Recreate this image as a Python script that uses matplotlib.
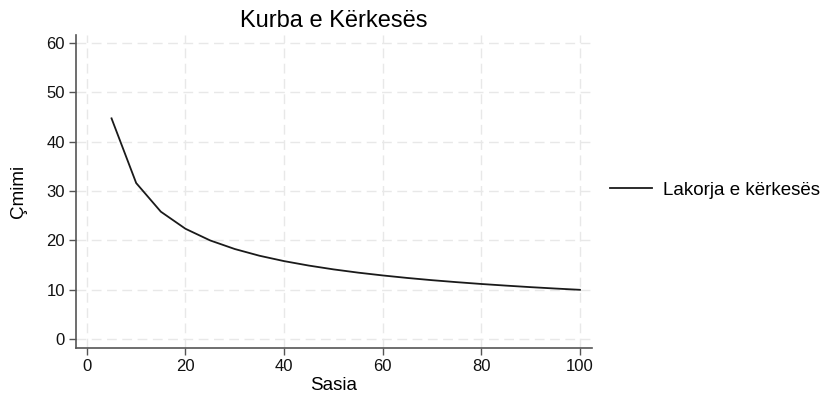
import matplotlib
matplotlib.use("Agg")
import matplotlib.pyplot as plt
from matplotlib.lines import Line2D

plt.rcParams['font.family'] = ['Liberation Sans', 'DejaVu Sans']

quantity = [5, 10, 15, 20, 25, 30, 35, 40, 45, 50, 55, 60, 65, 70, 75, 80, 85, 90, 95, 100]
price = [44.72, 31.62, 25.82, 22.36, 20.00, 18.26, 16.90, 15.81, 14.91, 14.14,
         13.48, 12.91, 12.40, 11.95, 11.55, 11.18, 10.85, 10.54, 10.26, 10.00]
xticks = [0, 20, 40, 60, 80, 100]
yticks = [0, 10, 20, 30, 40, 50, 60]
series_label = "Lakorja e kërkesës"

fig = plt.figure(figsize=(8.3, 3.96), dpi=100)
ax = fig.add_axes([0.0916, 0.121, 0.6214, 0.7906])
ax.plot(quantity, price, color='#1a1a1a', linewidth=1.3, label=series_label)
ax.set_xlim(-2.2, 102.4)
ax.set_ylim(-1.8, 61.6)
ax.set_xticks(xticks)
ax.set_yticks(yticks)
ax.grid(True, color='#e8e8e8', linestyle=(0, (7, 4)), linewidth=1.0)
ax.set_axisbelow(True)
for s in ['top', 'right']:
    ax.spines[s].set_visible(False)
for s in ['left', 'bottom']:
    ax.spines[s].set_color('#555555')
    ax.spines[s].set_linewidth(1.2)
ax.tick_params(axis='both', direction='out', length=5, width=1, color='#555555',
               labelsize=12, labelcolor='#111111', pad=3)
ax.set_title("Kurba e Kërkesës", fontsize=17, pad=6)
ax.set_xlabel("Sasia", fontsize=13.5, labelpad=2)
ax.set_ylabel("Çmimi", fontsize=13.5, labelpad=14)
handle = Line2D([], [], color='#1a1a1a', linewidth=1.3)
fig.legend([handle], [series_label], loc='center left', bbox_to_anchor=(0.715, 0.52),
           frameon=False, fontsize=13.5, handlelength=2.2, handletextpad=0.6)
fig.savefig("out.png", dpi=100, facecolor='white')
